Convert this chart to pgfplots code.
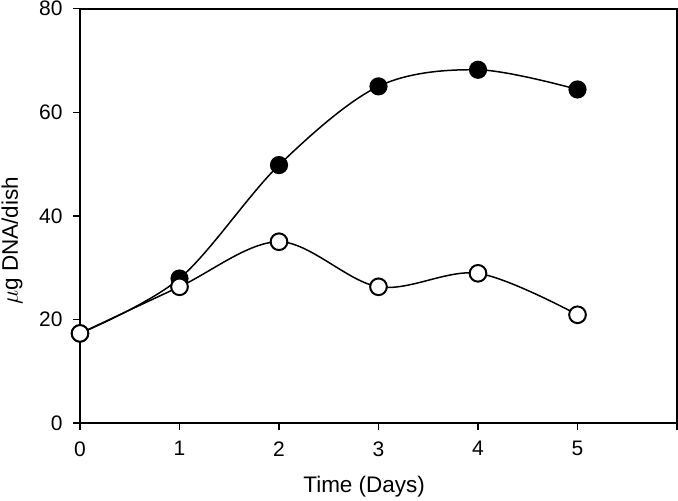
\documentclass[border=0pt]{standalone}
\usepackage{pgfplots}
\pgfplotsset{compat=1.18}
\usepackage{fontspec}
\setmainfont{Liberation Sans}
\begin{document}
\begin{tikzpicture}
\useasboundingbox (-48pt,-46.2pt) rectangle (358.8pt,253.8pt);
\begin{axis}[
  scale only axis,
  width=358.2pt, height=248.6pt,
  xmin=0, xmax=6, ymin=0, ymax=80,
  xtick={0,1,2,3,4,5,6},
  xticklabels={0,1,2,3,4,5,},
  ytick={0,20,40,60,80},
  tick align=outside,
  tick pos=left,
  major tick length=4pt,
  axis line style={line width=1pt},
  every tick/.style={black, line width=0.8pt},
  /pgf/number format/assume math mode=true,
  tick label style={font=\fontsize{12.6}{14}\selectfont},
  xticklabel style={yshift=-3.5pt},
  yticklabel style={xshift=-3pt},
  label style={font=\fontsize{13.5}{15}\selectfont},
  xlabel={Time (Days)},
  ylabel={$\mu$g DNA/dish},
  xlabel style={at={(axis description cs:0.476,-0.154)}, anchor=center},
  ylabel style={at={(axis description cs:-0.114,0.44)}, anchor=center},
  clip=false,
]
\addplot[smooth, tension=0.55, line width=0.9pt, black, mark=*, mark size=5pt,
  mark options={fill=black, draw=black, line width=0.9pt}]
  coordinates {(0,17.3) (1,27.9) (2,49.8) (3,65.0) (4,68.2) (5,64.4)};
\addplot[smooth, tension=0.55, line width=0.9pt, black, mark=*, mark size=5pt,
  mark options={fill=white, draw=black, line width=1.2pt}]
  coordinates {(0,17.3) (1,26.3) (2,35.0) (3,26.3) (4,28.9) (5,20.9)};
\end{axis}
\end{tikzpicture}
\end{document}
